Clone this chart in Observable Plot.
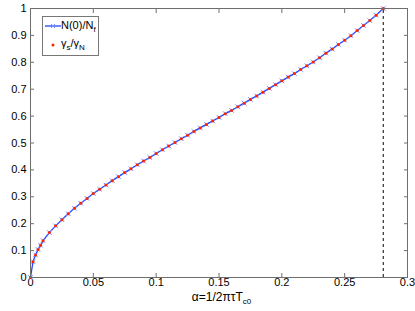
<!DOCTYPE html>
<html>
<head>
<meta charset="utf-8">
<script src="https://cdn.jsdelivr.net/npm/d3@7"></script>
<script src="https://cdn.jsdelivr.net/npm/@observablehq/plot@0.6"></script>
<style>
  html, body { margin: 0; padding: 0; background: #fff; }
  #wrap { position: relative; width: 415px; height: 311px; font-family: "Liberation Sans", Arial, Helvetica, sans-serif; }
  #legend { position: absolute; left: 42px; top: 16px; width: 57px; height: 40px; border: 1px solid #777; background: #fff; box-sizing: border-box; font-size: 11px; }
  .row { position: absolute; left: 0; white-space: nowrap; }
  .lbl { position: absolute; left: 18px; }
  sub { font-size: 8px; vertical-align: -3px; line-height: 0; }
  #xlabel { position: absolute; top: 291px; left: 0; width: 443px; text-align: center; font-size: 12px; line-height: 12px; white-space: nowrap; }
</style>
</head>
<body>
<div id="wrap">
  <div id="chart"></div>
  <div id="legend">
    <div class="row" style="top:2px;">
      <svg width="18" height="14" style="position:absolute;left:1px;top:0;">
        <line x1="1" x2="17" y1="7" y2="7" stroke="#2244ff" stroke-width="1.3"></line>
        <path d="M7,5 L11,9 M11,5 L7,9" stroke="#6f8cff" stroke-width="1"></path>
      </svg>
      <span class="lbl">N(0)/N<sub>f</sub></span>
    </div>
    <div class="row" style="top:20px;">
      <svg width="18" height="14" style="position:absolute;left:1px;top:1px;">
        <circle cx="9" cy="7" r="1.5" fill="#ff2200"></circle>
      </svg>
      <span class="lbl">&gamma;<sub>s</sub>/&gamma;<sub>N</sub></span>
    </div>
  </div>
  <div id="xlabel">&alpha;=1/2&pi;&tau;T<sub>c0</sub></div>
</div>
<script>
const alpha = [0, 0.002, 0.004, 0.006, 0.008, 0.010, 0.015, 0.020, 0.025, 0.030, 0.035, 0.040, 0.045, 0.050, 0.055, 0.060, 0.065, 0.070, 0.075, 0.080, 0.085, 0.090, 0.095, 0.100, 0.105, 0.110, 0.115, 0.120, 0.125, 0.130, 0.135, 0.140, 0.145, 0.150, 0.155, 0.160, 0.165, 0.170, 0.175, 0.180, 0.185, 0.190, 0.195, 0.200, 0.205, 0.210, 0.215, 0.220, 0.225, 0.230, 0.235, 0.240, 0.245, 0.250, 0.255, 0.260, 0.265, 0.270, 0.275, 0.2807];
const dosRatio = [0, 0.059, 0.084, 0.104, 0.120, 0.137, 0.167, 0.192, 0.215, 0.237, 0.257, 0.276, 0.294, 0.312, 0.328, 0.344, 0.360, 0.375, 0.390, 0.404, 0.419, 0.433, 0.446, 0.461, 0.475, 0.489, 0.502, 0.516, 0.529, 0.543, 0.556, 0.569, 0.582, 0.595, 0.609, 0.621, 0.635, 0.648, 0.662, 0.675, 0.689, 0.703, 0.717, 0.731, 0.745, 0.758, 0.773, 0.787, 0.801, 0.817, 0.834, 0.849, 0.866, 0.882, 0.899, 0.918, 0.937, 0.955, 0.975, 1.0];
const gammaRatio = [0, 0.059, 0.084, 0.104, 0.120, 0.137, 0.167, 0.192, 0.215, 0.237, 0.257, 0.276, 0.294, 0.312, 0.328, 0.344, 0.360, 0.375, 0.390, 0.404, 0.419, 0.433, 0.446, 0.461, 0.475, 0.489, 0.502, 0.516, 0.529, 0.543, 0.556, 0.569, 0.582, 0.595, 0.609, 0.621, 0.635, 0.648, 0.662, 0.675, 0.689, 0.703, 0.717, 0.731, 0.745, 0.758, 0.773, 0.787, 0.801, 0.817, 0.834, 0.849, 0.866, 0.882, 0.899, 0.918, 0.937, 0.955, 0.975, 1.0];
const xTicks = [0, 0.05, 0.1, 0.15, 0.2, 0.25, 0.3];
const yTicks = [0, 0.1, 0.2, 0.3, 0.4, 0.5, 0.6, 0.7, 0.8, 0.9, 1];
const alphaCritical = [0.2807];

const dosData = alpha.map((a, i) => ({a, v: dosRatio[i]}));
const gammaData = alpha.map((a, i) => ({a, v: gammaRatio[i]}));
const fmt = d => String(d);
const axisColor = "#6e6e6e";

const chart = Plot.plot({
  width: 415,
  height: 311,
  marginLeft: 30,
  marginRight: 8,
  marginTop: 8,
  marginBottom: 34,
  x: {domain: [0, 0.3]},
  y: {domain: [0, 1]},
  style: {fontFamily: "'Liberation Sans', Arial, Helvetica, sans-serif", fontSize: "11px", color: "#000", background: "#fff"},
  marks: [
    Plot.axisX(xTicks, {anchor: "bottom", tickSize: 0, tickPadding: 1, tickFormat: fmt, label: null, fill: "#000"}),
    Plot.axisX(xTicks, {anchor: "bottom", tickSize: -4, tickFormat: () => "", label: null, stroke: axisColor}),
    Plot.axisX(xTicks, {anchor: "top", tickSize: -4, tickFormat: () => "", label: null, stroke: axisColor}),
    Plot.axisY(yTicks, {anchor: "left", tickSize: 0, tickPadding: 4, tickFormat: fmt, label: null, fill: "#000"}),
    Plot.axisY(yTicks, {anchor: "left", tickSize: -4, tickFormat: () => "", label: null, stroke: axisColor}),
    Plot.axisY(yTicks, {anchor: "right", tickSize: -4, tickFormat: () => "", label: null, stroke: axisColor}),
    Plot.ruleX(alphaCritical, {x: d => d, y1: 0, y2: 1, stroke: "#000", strokeDasharray: "3,3", strokeWidth: 1}),
    Plot.line(dosData, {x: "a", y: "v", stroke: "#2244ff", strokeWidth: 1.3}),
    Plot.dot(dosData, {x: "a", y: "v", symbol: "times", r: 2.2, stroke: "#6f8cff", strokeWidth: 1}),
    Plot.dot(gammaData, {x: "a", y: "v", r: 1.5, fill: "#ff2200", stroke: null}),
    Plot.frame({stroke: axisColor})
  ]
});
document.getElementById("chart").appendChild(chart);
</script>
</body>
</html>
